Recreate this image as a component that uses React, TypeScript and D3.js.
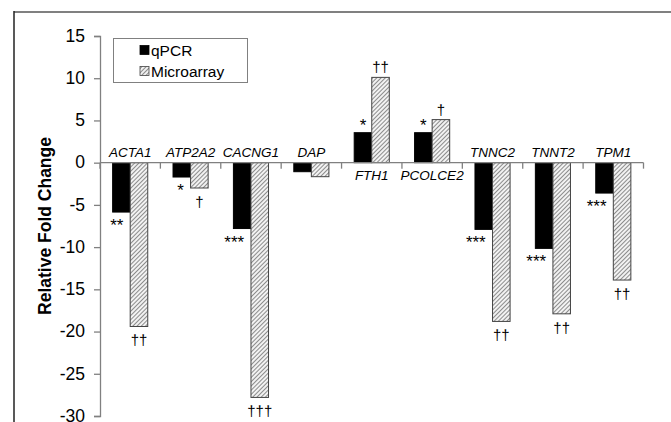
import React, { useRef, useEffect } from "react";
import * as d3 from "d3";

const genes = ["ACTA1", "ATP2A2", "CACNG1", "DAP", "FTH1", "PCOLCE2", "TNNC2", "TNNT2", "TPM1"];
const qpcr = [-5.85, -1.7, -7.8, -1.07, 3.55, 3.55, -7.9, -10.15, -3.6];
const microarray = [-19.4, -3.0, -27.8, -1.66, 10.1, 5.1, -18.8, -17.9, -13.9];
const qpcrSig = ["**", "*", "***", "", "*", "*", "***", "***", "***"];
const arraySig = ["††", "†", "†††", "", "††", "†", "††", "††", "††"];
const yTicks = [15, 10, 5, 0, -5, -10, -15, -20, -25, -30];
const series = ["qPCR", "Microarray"];

const W = 671;
const H = 422;

const App = () => {
  const ref = useRef<SVGSVGElement>(null);

  useEffect(() => {
    if (!ref.current) return;
    const svg = d3.select(ref.current);
    svg.selectAll("*").remove();
    const font = "Liberation Sans, Arial, sans-serif";

    // hatch pattern for the microarray bars
    const defs = svg.append("defs");
    const pat = defs
      .append("pattern")
      .attr("id", "hatch")
      .attr("patternUnits", "userSpaceOnUse")
      .attr("width", 3)
      .attr("height", 3)
      .attr("patternTransform", "rotate(45)");
    pat.append("rect").attr("width", 3).attr("height", 3).attr("fill", "#f2f2f2");
    pat.append("line").attr("x1", 0).attr("y1", 0).attr("x2", 0).attr("y2", 3)
      .attr("stroke", "#555").attr("stroke-width", 1.3);

    // outer frame (cropped)
    svg.append("line").attr("x1", 14).attr("x2", W).attr("y1", 12).attr("y2", 12)
      .attr("stroke", "#808080").attr("stroke-width", 2);
    svg.append("line").attr("x1", 14).attr("x2", 14).attr("y1", 11).attr("y2", H)
      .attr("stroke", "#222").attr("stroke-width", 1.5);

    const y = d3.scaleLinear().domain([-30, 15]).range([416, 36]);
    const x0 = d3.scaleBand<string>().domain(genes).range([100, 643.5]);
    const x1 = d3.scaleBand<string>().domain(series).range([0, x0.bandwidth()]).paddingOuter(0.72);
    const bw = x1.bandwidth();

    // y axis
    const yAxis = svg.append("g").attr("transform", "translate(100,0)")
      .call(d3.axisLeft(y).tickValues(yTicks).tickSize(6).tickPadding(9).tickFormat(d3.format("d")));
    yAxis.select(".domain").attr("stroke", "#808080").attr("stroke-width", 1.3);
    yAxis.selectAll(".tick line").attr("stroke", "#808080").attr("stroke-width", 1.3);
    yAxis.selectAll(".tick text").attr("font-family", font).attr("font-size", 17.5).attr("fill", "#000")
      .attr("dy", "0.3em")
      .text((d: any) => (d < 0 ? "-" + Math.abs(d) : String(d)));

    svg.append("text")
      .attr("transform", `translate(51,226) rotate(-90)`)
      .attr("text-anchor", "middle")
      .attr("font-family", font).attr("font-weight", "bold").attr("font-size", 17.5)
      .text("Relative Fold Change");

    // bars
    const g = svg.append("g");
    genes.forEach((gene, i) => {
      const vals = [qpcr[i], microarray[i]];
      vals.forEach((v, j) => {
        const bx = x0(gene)! + x1(series[j])!;
        g.append("rect")
          .attr("x", bx)
          .attr("width", bw)
          .attr("y", y(Math.max(0, v)))
          .attr("height", Math.abs(y(v) - y(0)))
          .attr("fill", j === 0 ? "#000" : "url(#hatch)")
          .attr("stroke", j === 0 ? "#000" : "#444")
          .attr("stroke-width", 1);
      });

      // significance marks
      const qx = x0(gene)! + x1("qPCR")! + bw / 2;
      const mx = x0(gene)! + x1("Microarray")! + bw / 2;
      if (qpcrSig[i]) {
        const v = qpcr[i];
        g.append("text")
          .attr("x", v < 0 ? qx + 2 : qx)
          .attr("y", v < 0 ? y(v) + 19 : y(v) - 2)
          .attr("text-anchor", v < 0 ? "end" : "middle")
          .attr("font-family", font).attr("font-size", 17)
          .text(qpcrSig[i]);
      }
      if (arraySig[i]) {
        const v = microarray[i];
        g.append("text")
          .attr("x", mx)
          .attr("y", v < 0 ? y(v) + 19 : y(v) - 5)
          .attr("text-anchor", "middle")
          .attr("font-family", font).attr("font-size", 15).attr("fill", "#000")
          .attr("text-rendering", "geometricPrecision")
          .text(arraySig[i]);
      }

      // category label
      const pos = qpcr[i] > 0;
      g.append("text")
        .attr("x", x0(gene)! + x0.bandwidth() / 2)
        .attr("y", pos ? 180 : 157)
        .attr("text-anchor", "middle")
        .attr("font-family", font).attr("font-style", "italic").attr("font-size", 13.5)
        .text(gene);
    });

    // x axis
    const xAxis = svg.append("g").attr("transform", `translate(0,${y(0)})`);
    xAxis.append("line").attr("x1", 100).attr("x2", 643.5).attr("stroke", "#808080").attr("stroke-width", 1.3);
    const bounds = genes.map((gn) => x0(gn)!).concat([643.5]);
    xAxis.selectAll("line.tk").data(bounds).enter().append("line").attr("class", "tk")
      .attr("x1", (d) => d).attr("x2", (d) => d).attr("y1", 0).attr("y2", 6)
      .attr("stroke", "#808080").attr("stroke-width", 1.3);

    // legend
    const lg = svg.append("g");
    lg.append("rect").attr("x", 113.5).attr("y", 38.5).attr("width", 134).attr("height", 44)
      .attr("fill", "#fff").attr("stroke", "#808080").attr("stroke-width", 1);
    series.forEach((s, j) => {
      const ly = 50 + j * 21;
      lg.append("rect").attr("x", 140).attr("y", ly - 4.5).attr("width", 9).attr("height", 9)
        .attr("fill", j === 0 ? "#000" : "url(#hatch)").attr("stroke", j === 0 ? "#000" : "#444").attr("stroke-width", 0.8);
      lg.append("text").attr("x", 151).attr("y", ly + 5.5)
        .attr("font-family", font).attr("font-size", 15.5).text(s);
    });
  }, []);

  return (
    <svg ref={ref} width={W} height={H} style={{ position: "absolute", left: 0, top: 0, background: "#fff" }} />
  );
};

export default App;
